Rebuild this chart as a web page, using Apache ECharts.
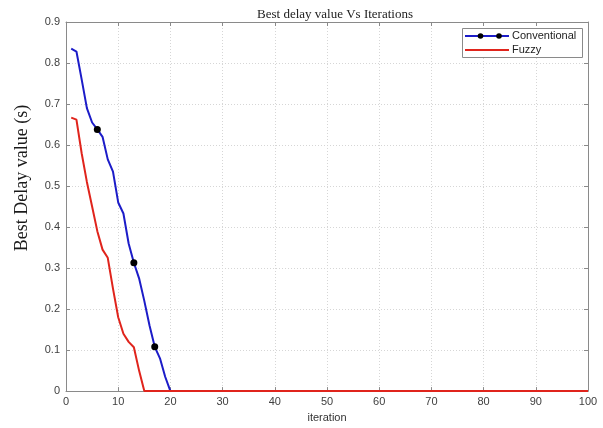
<!DOCTYPE html>
<html><head><meta charset="utf-8">
<script src="https://cdn.jsdelivr.net/npm/echarts@6/dist/echarts.min.js"></script>
<style>html,body{margin:0;padding:0;background:#fff}#c{width:603px;height:428px}</style>
</head><body><div id="c"></div>
<script>
// Data
const iterConventional = [1,2,3,4,5,6,7,8,9,10,11,12,13,14,15,16,17,18,19,20,100];
const conventional = [0.835,0.828,0.76,0.69,0.655,0.638,0.62,0.565,0.535,0.46,0.433,0.36,0.313,0.275,0.22,0.16,0.108,0.08,0.035,0,0];
const markerIters = [6,13,17];
const iterFuzzy = [1,2,3,4,5,6,7,8,9,10,11,12,13,14,15,100];
const fuzzy = [0.667,0.662,0.58,0.51,0.45,0.39,0.345,0.325,0.25,0.18,0.14,0.12,0.107,0.05,0,0];
const xTicks = [0,10,20,30,40,50,60,70,80,90,100];
const yTicks = [0,0.1,0.2,0.3,0.4,0.5,0.6,0.7,0.8,0.9];
const seriesNames = ['Conventional','Fuzzy'];
const titleText = 'Best delay value Vs Iterations';
const xName = 'iteration';
const yName = 'Best Delay value (s)';

const chart = echarts.init(document.getElementById('c'), null, {renderer:'canvas'});
const blue = '#1c1cc8', red = '#e0241c', frame = '#8a8a8a';
const labelStyle = {color:'#404040', fontFamily:'Liberation Sans', fontSize:11};
function xAx(pos, show){
  return {type:'value', position:pos, min:xTicks[0], max:xTicks[xTicks.length-1], interval:xTicks[1]-xTicks[0],
    axisLine:{show:true, onZero:false, lineStyle:{color:frame,width:1}},
    axisTick:{show:true, inside:true, length:4, lineStyle:{color:frame}},
    axisLabel:Object.assign({show:show, margin:5}, labelStyle),
    splitLine:{show:show, lineStyle:{color:'#d6d6d6', type:[1,2]}},
    name: show ? xName : '', nameLocation:'middle', nameGap:18,
    nameTextStyle:{color:'#333', fontFamily:'Liberation Sans', fontSize:11}};
}
function yAx(pos, show){
  return {type:'value', position:pos, min:yTicks[0], max:yTicks[yTicks.length-1], interval:0.1,
    axisLine:{show:true, onZero:false, lineStyle:{color:frame,width:1}},
    axisTick:{show:true, inside:true, length:4, lineStyle:{color:frame}},
    axisLabel:Object.assign({show:show, margin:6, formatter:v=>String(+v.toFixed(1))}, labelStyle),
    splitLine:{show:show, lineStyle:{color:'#d6d6d6', type:[1,2]}}};
}
const convData = iterConventional.map((x,i)=>{
  const isM = markerIters.indexOf(x) >= 0;
  return {value:[x, conventional[i]], symbolSize: isM ? 7 : 0};
});
const fuzzyData = iterFuzzy.map((x,i)=>[x, fuzzy[i]]);

chart.setOption({
  animation:false,
  backgroundColor:'#fff',
  title:{text:titleText, left:330, textAlign:'center', top:3,
    textStyle:{fontFamily:'Liberation Serif', fontSize:13, fontWeight:'normal', color:'#222'}},
  grid:{left:66, right:15, top:22, bottom:33},
  xAxis:[xAx('bottom', true), xAx('top', false)],
  yAxis:[yAx('left', true), yAx('right', false)],
  series:[
    {name:seriesNames[0], type:'line', data:convData, symbol:'circle', showSymbol:true,
     itemStyle:{color:'#000'}, lineStyle:{color:blue, width:2}, z:3},
    {name:seriesNames[1], type:'line', data:fuzzyData, symbol:'none',
     lineStyle:{color:red, width:2}, z:4}
  ],
  graphic:[
    {type:'text', x:22, y:178, rotation:Math.PI/2,
     style:{text:yName, fill:'#1a1a1a', font:'18px "Liberation Serif"', align:'center', verticalAlign:'middle'}},
    {type:'rect', shape:{x:462.5, y:28.5, width:120, height:29}, style:{fill:'#fff', stroke:frame, lineWidth:1}, z:10},
    {type:'line', shape:{x1:465, y1:36, x2:509, y2:36}, style:{stroke:blue, lineWidth:2}, z:11},
    {type:'circle', shape:{cx:480.5, cy:36, r:2.8}, style:{fill:'#000'}, z:12},
    {type:'circle', shape:{cx:499, cy:36, r:2.8}, style:{fill:'#000'}, z:12},
    {type:'line', shape:{x1:465, y1:50, x2:509, y2:50}, style:{stroke:red, lineWidth:2}, z:11},
    {type:'text', x:512, y:36, style:{text:seriesNames[0], fill:'#222', font:'11px "Liberation Sans"', verticalAlign:'middle'}, z:12},
    {type:'text', x:512, y:50, style:{text:seriesNames[1], fill:'#222', font:'11px "Liberation Sans"', verticalAlign:'middle'}, z:12}
  ]
});
</script></body></html>
